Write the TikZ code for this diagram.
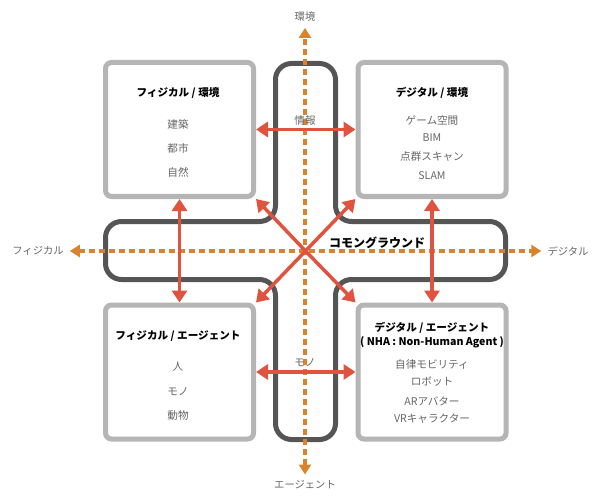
\documentclass[tikz,border=0pt]{standalone}
\usepackage{fontspec}
\setmainfont{Noto Sans CJK JP}
\usetikzlibrary{arrows.meta}
\definecolor{boxgray}{HTML}{B5B5B5}
\definecolor{crossgray}{HTML}{555555}
\definecolor{axisorange}{HTML}{D8832E}
\definecolor{linkred}{HTML}{E0533F}
\definecolor{txtgray}{HTML}{666666}

\begin{document}
\begin{tikzpicture}[x=1pt,y=-1pt,
  quad/.style={draw=boxgray,line width=5pt,fill=white,rounded corners=6pt,minimum width=148pt,minimum height=134pt,inner sep=0pt},
  title/.style={font=\bfseries\fontsize{10.6}{12}\selectfont,inner sep=1pt},
  item/.style={text=txtgray,font=\fontsize{10.6}{12}\selectfont,inner sep=1pt},
  axislabel/.style={text=txtgray,font=\fontsize{10.3}{12}\selectfont,inner sep=2pt},
  axis/.style={draw=axisorange,line width=4pt,dash pattern=on 6pt off 4pt,
    {Triangle[length=10pt,width=12pt]}-{Triangle[length=10pt,width=12pt]},shorten <=4pt,shorten >=4pt},
  link/.style={draw=linkred,line width=3.5pt,-{Triangle[length=12pt,width=15pt]}},
  biglink/.style={link,{Triangle[length=12pt,width=15pt]}-{Triangle[length=12pt,width=15pt]}}]
  \useasboundingbox (0,0) rectangle (600,500);
  % four quadrants
  \node[quad] (pe) at (179.5,129.5) {};
  \node[quad] (de) at (432,129.5) {};
  \node[quad] (pa) at (179.5,372) {};
  \node[quad] (da) at (432,372) {};
  % common ground
  \draw[crossgray,line width=5pt,rounded corners=16pt] (275.5,63.5) -- (335.5,63.5) -- (335.5,221.5)
    -- (505.5,221.5) -- (505.5,279.5) -- (335.5,279.5) -- (335.5,439.5) -- (275.5,439.5)
    -- (275.5,279.5) -- (105.5,279.5) -- (105.5,221.5) -- (275.5,221.5) -- cycle;
  \coordinate (cg) at (305.5,251);
  % axes
  \path (305,17) node[axislabel] (env) {環境} (305,485) node[axislabel] (ag) {エージェント}
  (38,251) node[axislabel] (fi) {フィジカル} (568,251) node[axislabel] (dg) {デジタル};
  \draw[axis] (ag) -- (env);
  \draw[axis] (fi) -- (dg);
  % links
  \draw[biglink] (pe.east) -- (de.west);
  \draw[biglink] (pa.east) -- (da.west);
  \draw[biglink] (pe.south) -- (pa.north);
  \draw[biglink] (de.south) -- (da.north);
  \draw[link] (cg) -- (pe.south east);
  \draw[link] (cg) -- (de.south west);
  \draw[link] (cg) -- (pa.north east);
  \draw[link] (cg) -- (da.north west);
  \node[item] (info) at (305,120) {情報};
  \node[item] (mono) at (305,363) {モノ};
  \node[title,font=\bfseries\fontsize{12}{13}\selectfont] (cgl) at (377,243) {コモングラウンド};
  % texts
  \path (178,93) node[title] (pet) {フィジカル / 環境}
  (178,124) node[item] (pe1) {建築} (178,148) node[item] (pe2) {都市} (178,172) node[item] (pe3) {自然};
  \path (432,93) node[title] (det) {デジタル / 環境}
  (432,120) node[item] (de1) {ゲーム空間} (432,138) node[item] (de2) {BIM}
  (432,157) node[item] (de3) {点群スキャン} (432,176) node[item] (de4) {SLAM};
  \path (178,336) node[title] (pat) {フィジカル / エージェント}
  (178,367) node[item] (pa1) {人} (178,392) node[item] (pa2) {モノ} (178,415) node[item] (pa3) {動物};
  \path (432,328) node[title] (dat) {デジタル / エージェント}
  (432,342) node[title] (dat2) {( NHA : Non-Human Agent )}
  (432,364) node[item] (da1) {自律モビリティ} (432,382) node[item] (da2) {ロボット}
  (432,401) node[item] (da3) {ARアバター} (432,419) node[item] (da4) {VRキャラクター};
\end{tikzpicture}
\end{document}
